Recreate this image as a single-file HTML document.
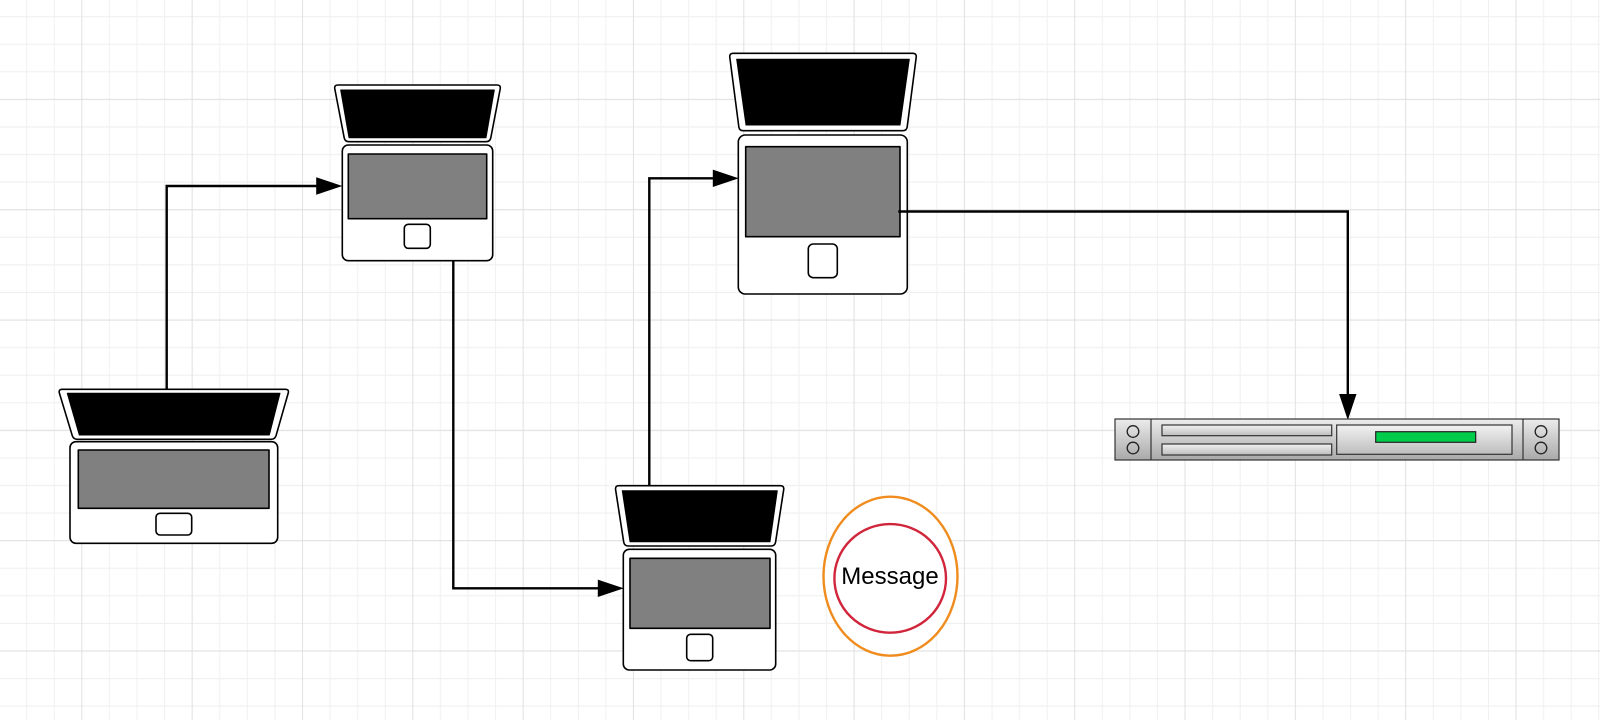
<!DOCTYPE html>
<html>
<head>
<meta charset="utf-8">
<style>
  html, body { margin: 0; padding: 0; background: #ffffff; }
  body { width: 1600px; height: 720px; overflow: hidden; }
  svg { display: block; }
</style>
</head>
<body>
<svg width="1600" height="720" viewBox="0 0 1600 720" xmlns="http://www.w3.org/2000/svg">
  <defs>
    <pattern id="grid" patternUnits="userSpaceOnUse" x="12.91" y="30.45" width="110.32" height="110.32">
      <g stroke="#f0f0f0" stroke-width="1">
        <line x1="13.79" y1="0" x2="13.79" y2="110.32"/>
        <line x1="41.37" y1="0" x2="41.37" y2="110.32"/>
        <line x1="96.53" y1="0" x2="96.53" y2="110.32"/>
        <line x1="0" y1="13.79" x2="110.32" y2="13.79"/>
        <line x1="0" y1="41.37" x2="110.32" y2="41.37"/>
        <line x1="0" y1="96.53" x2="110.32" y2="96.53"/>
      </g>
      <g stroke="#e0e0e0" stroke-width="1">
        <line x1="68.95" y1="0" x2="68.95" y2="110.32"/>
        <line x1="0" y1="68.95" x2="110.32" y2="68.95"/>
      </g>
    </pattern>
    <linearGradient id="srv" x1="0" y1="0" x2="0" y2="1">
      <stop offset="0" stop-color="#ececec"/>
      <stop offset="1" stop-color="#a9a9a9"/>
    </linearGradient>
    <linearGradient id="slot" x1="0" y1="0" x2="0" y2="1">
      <stop offset="0" stop-color="#f2f2f2"/>
      <stop offset="1" stop-color="#bdbdbd"/>
    </linearGradient>
  </defs>

  <rect x="0" y="0" width="1600" height="720" fill="#ffffff"/>
  <rect x="0" y="0" width="1600" height="720" fill="url(#grid)"/>

  <!-- Laptop 1 -->
  <g stroke="#000" stroke-width="1.6" stroke-linejoin="round">
    <path d="M62.3,389.3 H285.3 Q289.3,389.3 288.2,393.15 L276.1,435.45 Q275,439.3 271,439.3 H77.3 Q73.3,439.3 72.2,435.45 L59.4,393.15 Q58.3,389.3 62.3,389.3 Z" fill="#fff"/>
    <path d="M67.3,393.3 L280,393.3 L269.3,435 L79.3,435 Z" fill="#000" stroke-width="1"/>
    <rect x="70" y="441.7" width="207.7" height="101.6" rx="6" fill="#fff"/>
    <rect x="78.3" y="450" width="190.7" height="58.3" fill="#808080"/>
    <rect x="156" y="513.3" width="35.7" height="21.7" rx="4" fill="#fff"/>
  </g>

  <!-- Laptop 2 -->
  <g stroke="#000" stroke-width="1.6" stroke-linejoin="round">
    <path d="M338,85 H497 Q501,85 500.2,88.9 L490.8,137.8 Q490,141.7 486,141.7 H349 Q345,141.7 344.2,137.8 L334.8,88.9 Q334,85 338,85 Z" fill="#fff"/>
    <path d="M340.7,90 L494.3,90 L486,137.7 L349,137.7 Z" fill="#000" stroke-width="1"/>
    <rect x="342.3" y="145" width="150.4" height="115.7" rx="6" fill="#fff"/>
    <rect x="348.3" y="154" width="138.4" height="64.7" fill="#808080"/>
    <rect x="404.3" y="224.3" width="26" height="24" rx="4" fill="#fff"/>
  </g>

  <!-- Laptop 3 -->
  <g stroke="#000" stroke-width="1.6" stroke-linejoin="round">
    <path d="M733.3,53.3 H912.7 Q916.7,53.3 916.2,57.3 L907.2,126.7 Q906.7,130.7 902.7,130.7 H743.3 Q739.3,130.7 738.8,126.7 L729.8,57.3 Q729.3,53.3 733.3,53.3 Z" fill="#fff"/>
    <path d="M736.7,59.3 L909.3,59.3 L900,125 L746,125 Z" fill="#000" stroke-width="1"/>
    <rect x="738.3" y="135" width="169" height="159" rx="7" fill="#fff"/>
    <rect x="745.7" y="146.7" width="154.3" height="90" fill="#808080"/>
    <rect x="808.3" y="244" width="29" height="33.7" rx="5" fill="#fff"/>
  </g>

  <!-- Laptop 4 -->
  <g stroke="#000" stroke-width="1.6" stroke-linejoin="round">
    <path d="M619,485.7 H780.3 Q784.3,485.7 783.7,489.65 L775.6,542.05 Q775,546 771,546 H628.3 Q624.3,546 623.7,542.05 L615.6,489.65 Q615,485.7 619,485.7 Z" fill="#fff"/>
    <path d="M622.3,490.7 L777.3,490.7 L770,541.7 L630,541.7 Z" fill="#000" stroke-width="1"/>
    <rect x="623.3" y="549.3" width="152.4" height="120.7" rx="6" fill="#fff"/>
    <rect x="630" y="558.3" width="140" height="70" fill="#808080"/>
    <rect x="686.7" y="634.3" width="26" height="26.4" rx="4" fill="#fff"/>
  </g>

  <!-- Connectors -->
  <g fill="none" stroke="#000" stroke-width="2.4">
    <path d="M166.7,389 V186 H318"/>
    <path d="M453.3,261 V588.3 H600"/>
    <path d="M649.3,485.7 V178.3 H714"/>
    <path d="M898.3,211.5 H1347.8 V396"/>
  </g>
  <g fill="#000" stroke="#000" stroke-width="1">
    <path d="M340.7,186 L316.7,178 L316.7,194 Z"/>
    <path d="M622.3,588.3 L598.3,580.3 L598.3,596.3 Z"/>
    <path d="M737.3,178.3 L713.3,170.3 L713.3,186.3 Z"/>
    <path d="M1347.8,418.5 L1339.8,394.5 L1355.8,394.5 Z"/>
  </g>

  <!-- Server -->
  <g stroke="#333" stroke-width="1.2">
    <rect x="1115" y="419" width="444" height="41" fill="url(#srv)"/>
    <line x1="1151" y1="419" x2="1151" y2="460"/>
    <line x1="1523" y1="419" x2="1523" y2="460"/>
    <rect x="1162" y="425" width="169.7" height="10.7" fill="url(#slot)"/>
    <rect x="1162" y="444" width="169.7" height="11" fill="url(#slot)"/>
    <rect x="1336.7" y="425" width="175.3" height="29.3" fill="url(#slot)"/>
    <rect x="1375.7" y="431.7" width="100" height="10.6" fill="#00cc4c" stroke="#222"/>
  </g>
  <g fill="none" stroke="#222" stroke-width="1.3">
    <circle cx="1133" cy="431.5" r="5.8"/>
    <circle cx="1133" cy="448" r="5.8"/>
    <circle cx="1541" cy="431.5" r="5.8"/>
    <circle cx="1541" cy="448" r="5.8"/>
  </g>

  <!-- Message -->
  <ellipse cx="890.5" cy="576.2" rx="67" ry="79.5" fill="#fff" stroke="#f08c1e" stroke-width="2.4"/>
  <ellipse cx="890.2" cy="578.4" rx="55.8" ry="54.3" fill="#fff" stroke="#d0253a" stroke-width="2.4"/>
  <text x="890" y="584" font-family="Liberation Sans, Arial, sans-serif" font-size="24" text-anchor="middle" fill="#000">Message</text>
</svg>
</body>
</html>
